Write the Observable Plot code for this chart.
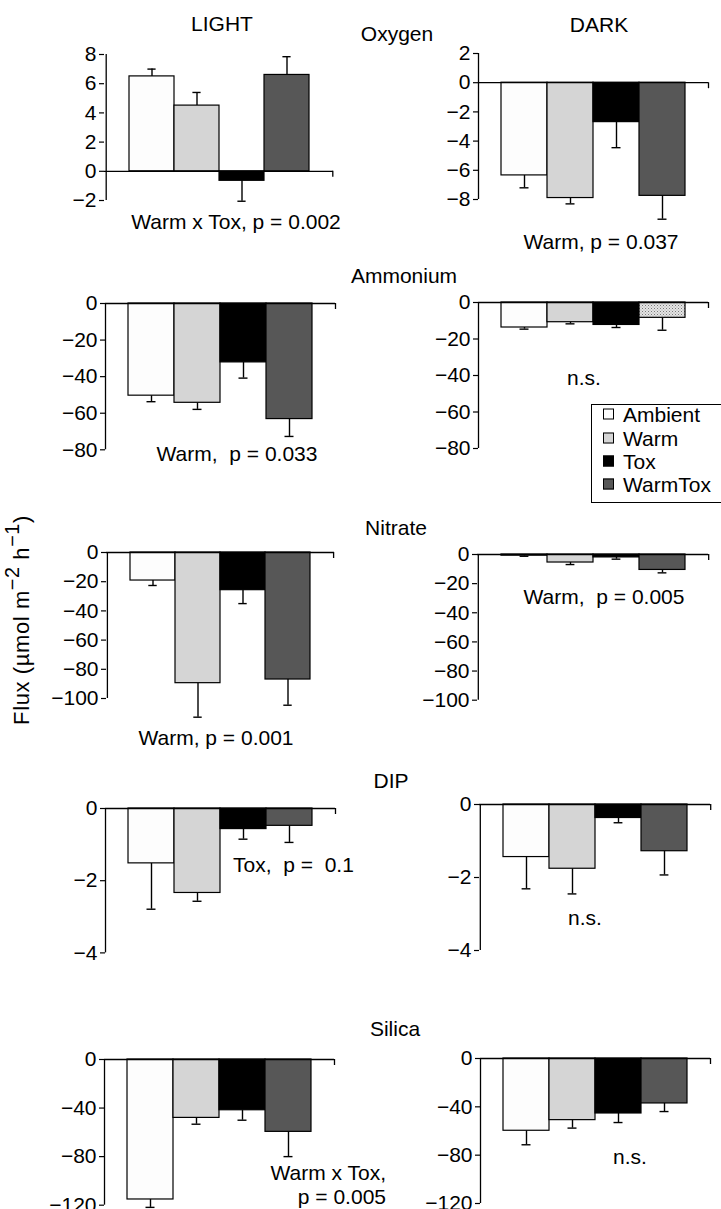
<!DOCTYPE html>
<html><head><meta charset="utf-8">
<script src="https://cdn.jsdelivr.net/npm/d3@7"></script>
<script src="https://cdn.jsdelivr.net/npm/@observablehq/plot@0.6"></script>
<style>
body{margin:0;background:#fff;}
#root{position:relative;width:721px;height:1209px;overflow:hidden;font-family:"Liberation Sans",Arial,Helvetica,sans-serif;color:#000;background:#fff;}
#root svg{position:absolute;}
.lbl{position:absolute;font-size:21px;white-space:pre;line-height:1;transform:translate(-50%,-50%);}
.lblL{position:absolute;font-size:21px;white-space:pre;line-height:1;transform:translate(0,-50%);}
.lblR{position:absolute;font-size:21px;white-space:pre;line-height:1;transform:translate(-100%,-50%);}
#legend{position:absolute;left:591px;top:404px;width:140px;height:99px;border:1px solid #000;background:#fff;box-sizing:border-box;}
.lg{position:absolute;left:11px;font-size:21px;line-height:1;white-space:pre;transform:translateY(-50%);}
.sw{display:inline-block;width:11px;height:11px;border:1px solid #000;box-sizing:border-box;margin-right:9px;vertical-align:middle;position:relative;top:-2px;}
#ylab{position:absolute;left:22px;top:620px;font-size:22px;letter-spacing:0.6px;white-space:pre;line-height:1;transform:translate(-50%,-50%) rotate(-90deg);}
#ylab sup{font-size:0.9em;vertical-align:0.5em;line-height:0;}
</style></head><body>
<svg width="0" height="0" style="position:absolute"><defs>
<pattern id="stipple" width="3" height="3" patternUnits="userSpaceOnUse"><rect width="3" height="3" fill="#e4e4e4"/><rect x="0" y="0" width="1" height="1" fill="#7a7a7a"/><rect x="1.5" y="1.5" width="1" height="1" fill="#a0a0a0"/></pattern>
</defs></svg>
<div id="root"></div>
<script>
// ---- data ----
const treatments = ["Ambient", "Warm", "Tox", "WarmTox"];
const fillsDefault = ["#fdfdfd", "#d5d5d5", "#000000", "#575757"];
const fillsStipple = ["#fdfdfd", "#d5d5d5", "#000000", "url(#stipple)"];

const oxygenLight = [6.5, 4.5, -0.65, 6.6];
const oxygenLightSE = [0.5, 0.9, 1.4, 1.25];
const oxygenDark = [-6.35, -7.9, -2.7, -7.75];
const oxygenDarkSE = [0.85, 0.4, 1.75, 1.6];
const ammoniumLight = [-50.4, -54.3, -32.2, -63.2];
const ammoniumLightSE = [3.3, 3.6, 8.6, 9.5];
const ammoniumDark = [-13.7, -10.8, -12.3, -8.4];
const ammoniumDarkSE = [0.9, 0.9, 1.4, 6.8];
const nitrateLight = [-19.2, -89.5, -25.8, -87];
const nitrateLightSE = [3.4, 23.3, 9.2, 17.6];
const nitrateDark = [-0.8, -5.5, -2.0, -10.6];
const nitrateDarkSE = [0.4, 1.4, 1.2, 2.0];
const dipLight = [-1.52, -2.34, -0.57, -0.48];
const dipLightSE = [1.27, 0.23, 0.28, 0.46];
const dipDark = [-1.44, -1.76, -0.37, -1.28];
const dipDarkSE = [0.87, 0.69, 0.13, 0.65];
const silicaLight = [-115.3, -48.1, -41.8, -59.6];
const silicaLightSE = [6.5, 5.2, 8.2, 20.4];
const silicaDark = [-59.8, -51, -45.5, -37.2];
const silicaDarkSE = [11.6, 6.6, 7.5, 6.7];

const ticksOxygenLight = [-2, 0, 2, 4, 6, 8];
const ticksOxygenDark = [-8, -6, -4, -2, 0, 2];
const ticksAmmonium = [0, -20, -40, -60, -80];
const ticksNitrate = [0, -20, -40, -60, -80, -100];
const ticksDip = [0, -2, -4];
const ticksSilica = [0, -40, -80, -120];

// ---- layout (pixel boxes of each panel's axes) ----
const panels = [
  {m: oxygenLight, se: oxygenLightSE, ticks: ticksOxygenLight, box: {ax: 104, top: 54, bottom: 200, right: 333}, fills: fillsDefault},
  {m: oxygenDark, se: oxygenDarkSE, ticks: ticksOxygenDark, box: {ax: 478, top: 53.3, bottom: 199.3, right: 708}, fills: fillsDefault},
  {m: ammoniumLight, se: ammoniumLightSE, ticks: ticksAmmonium, box: {ax: 105, top: 302.7, bottom: 449, right: 335}, fills: fillsDefault},
  {m: ammoniumDark, se: ammoniumDarkSE, ticks: ticksAmmonium, box: {ax: 478, top: 301.7, bottom: 447.7, right: 708}, fills: fillsStipple},
  {m: nitrateLight, se: nitrateLightSE, ticks: ticksNitrate, box: {ax: 106, top: 552.3, bottom: 698.3, right: 334}, fills: fillsDefault},
  {m: nitrateDark, se: nitrateDarkSE, ticks: ticksNitrate, box: {ax: 477, top: 554.3, bottom: 700, right: 708}, fills: fillsDefault},
  {m: dipLight, se: dipLightSE, ticks: ticksDip, box: {ax: 105, top: 808.3, bottom: 952.7, right: 335}, fills: fillsDefault},
  {m: dipDark, se: dipDarkSE, ticks: ticksDip, box: {ax: 479, top: 804, bottom: 950, right: 710}, fills: fillsDefault},
  {m: silicaLight, se: silicaLightSE, ticks: ticksSilica, box: {ax: 104, top: 1059.3, bottom: 1205, right: 334}, fills: fillsDefault},
  {m: silicaDark, se: silicaDarkSE, ticks: ticksSilica, box: {ax: 480, top: 1057.7, bottom: 1202.7, right: 710}, fills: fillsDefault}
];

const labels = [
  {t: "LIGHT", x: 222, y: 23, c: "lbl"},
  {t: "DARK", x: 599, y: 24, c: "lbl"},
  {t: "Oxygen", x: 397, y: 33, c: "lbl"},
  {t: "Ammonium", x: 404, y: 275, c: "lbl"},
  {t: "Nitrate", x: 396, y: 527, c: "lbl"},
  {t: "DIP", x: 391, y: 780, c: "lbl"},
  {t: "Silica", x: 395, y: 1028, c: "lbl"},
  {t: "Warm x Tox, p = 0.002", x: 236, y: 221, c: "lbl"},
  {t: "Warm, p = 0.037", x: 601, y: 241, c: "lbl"},
  {t: "Warm,  p = 0.033", x: 237, y: 453, c: "lbl"},
  {t: "n.s.", x: 584, y: 377, c: "lbl"},
  {t: "Warm, p = 0.001", x: 216, y: 737, c: "lbl"},
  {t: "Warm,  p = 0.005", x: 604, y: 596, c: "lbl"},
  {t: "Tox,  p =  0.1", x: 233, y: 864, c: "lblL"},
  {t: "n.s.", x: 585, y: 917, c: "lbl"},
  {t: "Warm x Tox,", x: 386, y: 1172, c: "lblR"},
  {t: "p = 0.005", x: 386, y: 1196, c: "lblR"},
  {t: "n.s.", x: 630, y: 1156, c: "lbl"}
];

const root = document.getElementById("root");
const FONT = '"Liberation Sans", Arial, Helvetica, sans-serif';

function drawPanel(p) {
  const {ax, top, bottom, right} = p.box;
  const fw = right - ax, fh = bottom - top;
  const mL = 70, mR = 12, mT = 12, mB = 12;
  const step = fw / 5;
  const rows = treatments.map((t, i) => ({t, v: p.m[i], tip: p.m[i] + Math.sign(p.m[i]) * p.se[i]}));
  const dom = [Math.min(...p.ticks), Math.max(...p.ticks)];
  const chart = Plot.plot({
    width: mL + fw + mR,
    height: mT + fh + mB,
    marginLeft: mL, marginRight: mR, marginTop: mT, marginBottom: mB,
    style: {background: "transparent", fontFamily: FONT, fontSize: "21px", overflow: "visible", color: "#000"},
    x: {type: "band", domain: treatments, paddingInner: 0, paddingOuter: 0.5, axis: null},
    y: {domain: dom, axis: null},
    color: {type: "ordinal", domain: treatments, range: p.fills},
    marks: [
      Plot.ruleX(rows, {x: "t", y1: "v", y2: "tip", stroke: "#000", strokeWidth: 1.4}),
      Plot.tickY(rows, {x: "t", y: "tip", stroke: "#000", strokeWidth: 1.4, insetLeft: step / 2 - 4.5, insetRight: step / 2 - 4.5}),
      Plot.barY(rows, {x: "t", y: "v", fill: "t", stroke: "#000", strokeWidth: 1.2}),
      Plot.ruleY([0], {stroke: "#000", strokeWidth: 1.3}),
      Plot.ruleX(["Ambient"], {dx: -step, stroke: "#000", strokeWidth: 1.3}),
      Plot.ruleX(["WarmTox"], {dx: step, y1: 0, y2: 0, insetBottom: -6, stroke: "#000", strokeWidth: 1.3}),
      Plot.axisY(p.ticks, {tickSize: 5, tickPadding: 3, label: null, fontSize: 21, stroke: "#000", strokeWidth: 1.2})
    ]
  });
  chart.style.left = (ax - mL) + "px";
  chart.style.top = (top - mT) + "px";
  root.appendChild(chart);
}
panels.forEach(drawPanel);

for (const l of labels) {
  const d = document.createElement("div");
  d.className = l.c;
  d.textContent = l.t;
  d.style.left = l.x + "px";
  d.style.top = l.y + "px";
  root.appendChild(d);
}

// legend
const lg = document.createElement("div");
lg.id = "legend";
const rowY = [9, 33, 56, 79];
treatments.forEach((t, i) => {
  const r = document.createElement("div");
  r.className = "lg";
  r.style.top = rowY[i] + "px";
  const sw = document.createElement("span");
  sw.className = "sw";
  sw.style.background = fillsDefault[i];
  r.appendChild(sw);
  r.appendChild(document.createTextNode(t));
  lg.appendChild(r);
});
root.appendChild(lg);

// y label
const yl = document.createElement("div");
yl.id = "ylab";
yl.innerHTML = "Flux (µmol m<sup>−2</sup> h<sup>−1</sup>)";
root.appendChild(yl);
</script>
</body></html>
